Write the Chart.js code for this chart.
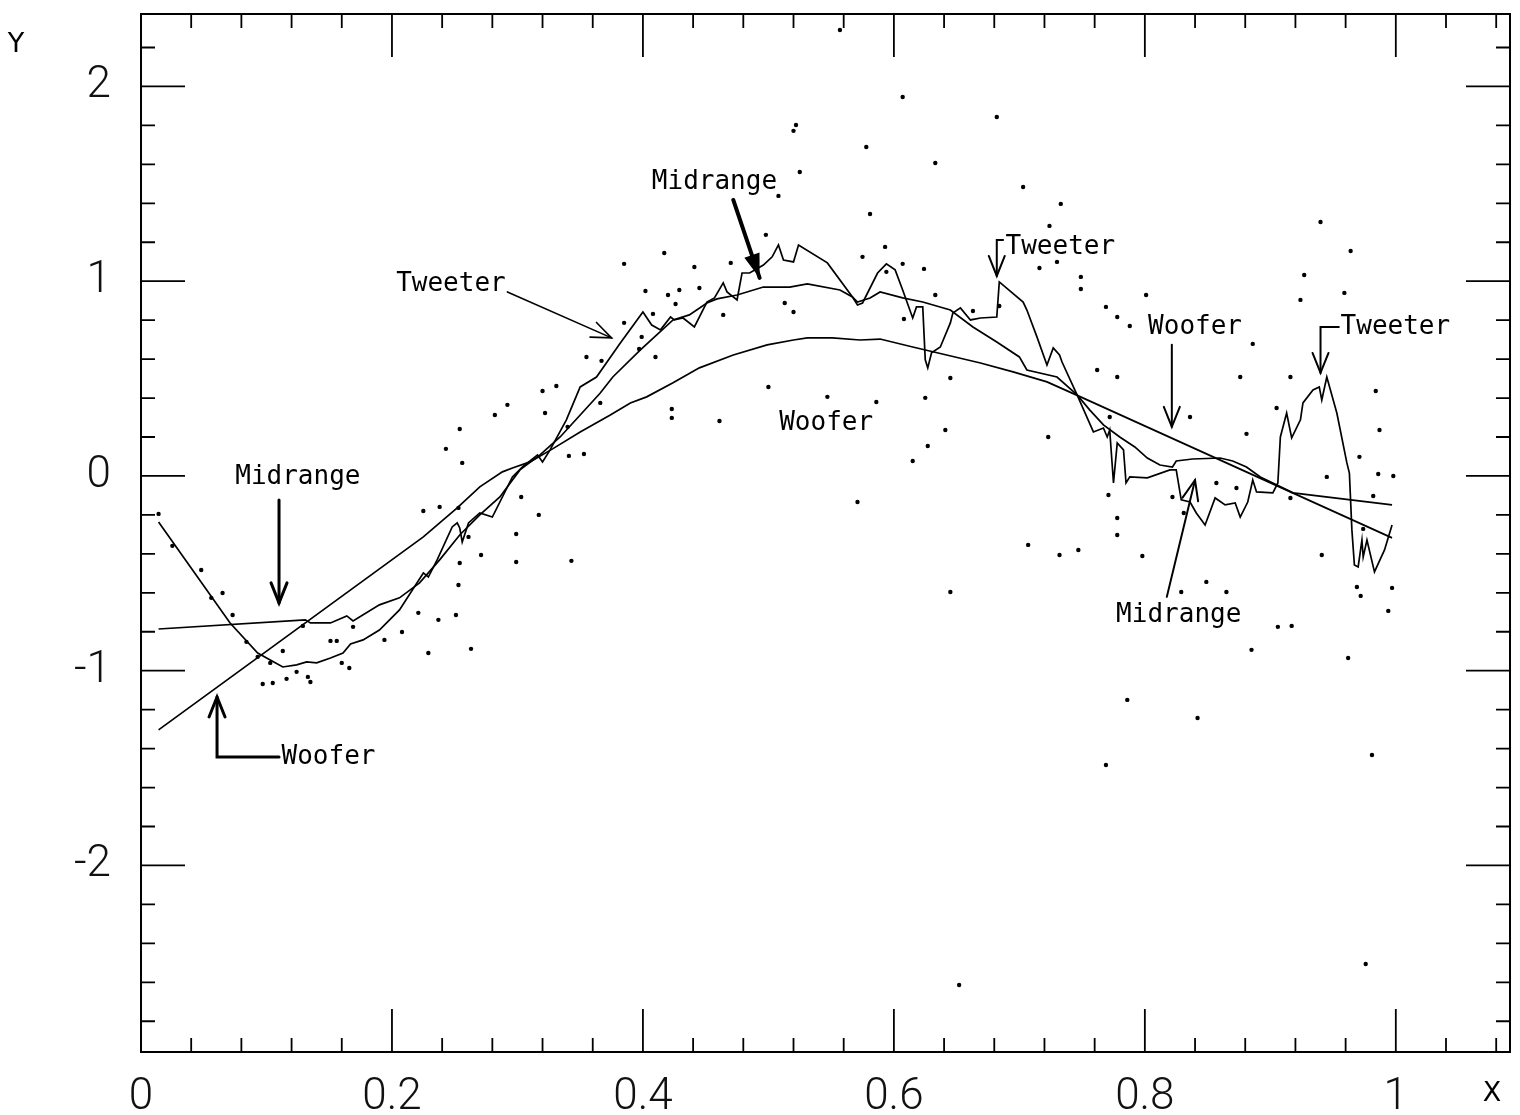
<!DOCTYPE html>
<html><head><meta charset="utf-8">
<script src="https://cdn.jsdelivr.net/npm/chart.js@4/dist/chart.umd.min.js"></script>
<style>html,body{margin:0;padding:0;background:#fff;}canvas{display:block;}</style>
</head><body>
<canvas id="c" width="1520" height="1115"></canvas>
<script>
// ---- axis ticks ----
const xTickLabels = [0, 0.2, 0.4, 0.6, 0.8, 1];
const yTickLabels = [-2, -1, 0, 1, 2];
const xMinorTicks = [0.04,0.08,0.12,0.16,0.24,0.28,0.32,0.36,0.44,0.48,0.52,0.56,0.64,0.68,0.72,0.76,0.84,0.88,0.92,0.96,1.04,1.08];
const yMinorTicks = [-2.8,-2.6,-2.4,-2.2,-1.8,-1.6,-1.4,-1.2,-0.8,-0.6,-0.4,-0.2,0.2,0.4,0.6,0.8,1.2,1.4,1.6,1.8,2.2];

// ---- observed data points ----
const dataPoints = [
[0.633,1.607],[0.525,1.561],[0.508,1.438],[0.581,1.345],[0.498,1.238],[0.417,1.145],[0.593,1.176],[0.575,1.125],
[0.470,1.094],[0.441,1.073],[0.385,1.089],[0.607,1.089],[0.624,1.063],[0.594,1.048],[0.402,0.950],[0.420,0.929],
[0.429,0.955],[0.445,0.965],[0.426,0.883],[0.633,0.929],[0.385,0.786],[0.408,0.832],[0.464,0.827],[0.513,0.888],
[0.520,0.842],[0.608,0.806],[0.355,0.611],[0.367,0.591],[0.410,0.611],[0.399,0.714],[0.320,0.436],[0.331,0.462],
[0.292,0.365],[0.322,0.323],[0.366,0.375],[0.423,0.344],[0.423,0.298],[0.461,0.282],[0.500,0.457],[0.547,0.406],
[0.586,0.380],[0.625,0.401],[0.641,0.236],[0.627,0.154],[0.645,0.503],[0.340,0.252],[0.522,1.802],[0.520,1.772],
[0.607,1.946],[0.682,1.843],[0.578,1.689],[0.557,2.290],[0.703,1.484],[0.733,1.397],[0.724,1.284],[0.940,1.304],
[0.964,1.155],[0.730,1.099],[0.716,1.068],[0.927,1.032],[0.959,0.940],[0.749,1.022],[0.749,0.960],[0.801,0.929],
[0.924,0.904],[0.769,0.868],[0.778,0.816],[0.788,0.770],[0.663,0.847],[0.684,0.873],[0.886,0.678],[0.916,0.508],
[0.876,0.508],[0.984,0.436],[0.987,0.236],[0.881,0.216],[0.905,0.349],[0.836,0.303],[0.762,0.544],[0.778,0.508],
[0.615,0.077],[0.723,0.200],[0.971,0.098],[0.945,-0.005],[0.986,0.010],[0.998,0.000],[0.982,-0.103],[0.916,-0.113],
[0.857,-0.036],[0.873,-0.062],[0.771,-0.098],[0.831,-0.190],[0.778,-0.216],[0.778,-0.303],[0.707,-0.354],[0.747,-0.380],
[0.732,-0.406],[0.798,-0.411],[0.941,-0.406],[0.974,-0.272],[0.969,-0.570],[0.972,-0.616],[0.997,-0.575],[0.994,-0.693],
[0.829,-0.596],[0.849,-0.544],[0.865,-0.596],[0.645,-0.596],[0.906,-0.775],[0.917,-0.770],[0.772,0.303],[0.822,-0.108],
[0.769,-1.484],[0.786,-1.150],[0.842,-1.243],[0.885,-0.893],[0.962,-0.935],[0.981,-1.433],[0.976,-2.506],[0.571,-0.134],
[0.652,-2.614],[0.243,0.139],[0.256,0.067],[0.014,-0.195],[0.025,-0.359],[0.048,-0.483],[0.056,-0.626],[0.065,-0.601],
[0.073,-0.714],[0.084,-0.852],[0.093,-0.929],[0.103,-0.960],[0.113,-0.899],[0.129,-0.770],[0.151,-0.847],[0.156,-0.847],
[0.169,-0.775],[0.160,-0.960],[0.166,-0.986],[0.097,-1.068],[0.105,-1.063],[0.116,-1.042],[0.124,-1.006],[0.133,-1.032],
[0.135,-1.058],[0.194,-0.842],[0.208,-0.801],[0.221,-0.703],[0.237,-0.739],[0.251,-0.714],[0.229,-0.909],[0.263,-0.888],
[0.225,-0.180],[0.238,-0.159],[0.253,-0.164],[0.303,-0.108],[0.299,-0.298],[0.299,-0.442],[0.271,-0.406],[0.254,-0.447],
[0.253,-0.560],[0.261,-0.313],[0.282,0.313],[0.254,0.241],[0.341,0.103],[0.353,0.113],[0.317,-0.200],[0.343,-0.436],
[0.397,0.652]
];

// ---- smoother fits ----
const tweeter = [
[0.014,-0.236],[0.071,-0.755],[0.093,-0.909],[0.103,-0.945],[0.113,-0.981],[0.124,-0.970],[0.132,-0.955],[0.140,-0.960],
[0.151,-0.935],[0.161,-0.909],[0.167,-0.863],[0.177,-0.842],[0.190,-0.791],[0.206,-0.688],[0.225,-0.498],[0.229,-0.519],
[0.236,-0.431],[0.248,-0.262],[0.252,-0.241],[0.254,-0.267],[0.256,-0.339],[0.261,-0.241],[0.270,-0.190],[0.280,-0.211],
[0.296,-0.005],[0.304,0.046],[0.316,0.108],[0.320,0.072],[0.326,0.134],[0.339,0.288],[0.350,0.457],[0.363,0.508],
[0.382,0.683],[0.400,0.842],[0.407,0.775],[0.414,0.750],[0.422,0.816],[0.425,0.801],[0.432,0.811],[0.441,0.765],
[0.451,0.893],[0.457,0.914],[0.464,0.991],[0.467,0.945],[0.475,0.904],[0.479,1.042],[0.485,1.042],[0.496,1.083],
[0.503,1.125],[0.508,1.186],[0.512,1.109],[0.520,1.099],[0.524,1.186],[0.547,1.094],[0.567,0.919],[0.571,0.878],
[0.575,0.888],[0.587,1.042],[0.594,1.089],[0.601,1.058],[0.607,0.955],[0.615,0.811],[0.618,0.868],[0.623,0.868],
[0.625,0.596],[0.627,0.555],[0.630,0.632],[0.637,0.662],[0.645,0.786],[0.647,0.837],[0.653,0.863],[0.661,0.801],
[0.669,0.811],[0.682,0.816],[0.684,0.996],[0.703,0.893],[0.706,0.852],[0.714,0.714],[0.722,0.570],[0.727,0.657],
[0.732,0.621],[0.734,0.585],[0.746,0.416],[0.759,0.226],[0.767,0.246],[0.770,0.200],[0.772,0.236],[0.775,-0.036],
[0.778,0.169],[0.783,0.134],[0.785,-0.036],[0.788,-0.005],[0.802,-0.010],[0.820,0.031],[0.825,0.031],[0.829,-0.123],
[0.836,-0.134],[0.841,-0.190],[0.848,-0.252],[0.856,-0.113],[0.864,-0.149],[0.872,-0.139],[0.876,-0.211],[0.882,-0.134],
[0.886,-0.021],[0.889,-0.082],[0.902,-0.087],[0.906,-0.036],[0.908,0.200],[0.913,0.323],[0.917,0.195],[0.924,0.288],
[0.926,0.375],[0.934,0.442],[0.939,0.457],[0.941,0.390],[0.945,0.508],[0.953,0.323],[0.961,0.067],[0.963,0.015],
[0.965,-0.277],[0.967,-0.457],[0.970,-0.467],[0.973,-0.329],[0.974,-0.416],[0.977,-0.329],[0.983,-0.493],[0.991,-0.380],
[0.997,-0.252]
];
const midrange = [
[0.014,-0.786],[0.131,-0.739],[0.135,-0.755],[0.151,-0.755],[0.164,-0.719],[0.169,-0.745],[0.190,-0.662],[0.206,-0.626],
[0.222,-0.549],[0.238,-0.431],[0.254,-0.303],[0.270,-0.200],[0.286,-0.108],[0.302,0.031],[0.318,0.108],[0.334,0.200],
[0.350,0.313],[0.366,0.426],[0.376,0.508],[0.398,0.647],[0.411,0.724],[0.424,0.801],[0.437,0.827],[0.451,0.888],
[0.459,0.909],[0.475,0.929],[0.496,0.970],[0.517,0.970],[0.531,0.986],[0.557,0.955],[0.567,0.919],[0.571,0.893],
[0.581,0.914],[0.589,0.945],[0.607,0.914],[0.623,0.893],[0.645,0.852],[0.663,0.765],[0.682,0.688],[0.700,0.611],
[0.706,0.544],[0.730,0.508],[0.746,0.416],[0.756,0.339],[0.767,0.262],[0.780,0.200],[0.792,0.149],[0.802,0.092],
[0.812,0.056],[0.822,0.046],[0.825,0.077],[0.838,0.087],[0.860,0.092],[0.870,0.077],[0.881,0.046],[0.892,-0.005],
[0.902,-0.036],[0.918,-0.087],[0.997,-0.149]
];
const woofer = [
[0.014,-1.304],[0.225,-0.313],[0.252,-0.164],[0.270,-0.056],[0.288,0.021],[0.296,0.041],[0.310,0.072],[0.328,0.139],
[0.350,0.226],[0.374,0.313],[0.390,0.375],[0.403,0.406],[0.424,0.478],[0.445,0.555],[0.472,0.621],[0.499,0.673],
[0.520,0.698],[0.531,0.709],[0.551,0.709],[0.573,0.698],[0.589,0.703],[0.615,0.662],[0.642,0.621],[0.669,0.580],
[0.695,0.534],[0.722,0.483],[0.747,0.411],[0.997,-0.318]
];

// ---- annotations (data coordinates) ----
const noteLabels = [
  {text:'Midrange', x:0.125, y:-0.005, align:'center'},
  {text:'Woofer',   x:0.112, y:-1.443, align:'left'},
  {text:'Tweeter',  x:0.247, y:0.986,  align:'center'},
  {text:'Midrange', x:0.457, y:1.510,  align:'center'},
  {text:'Woofer',   x:0.546, y:0.272,  align:'center'},
  {text:'Tweeter',  x:0.689, y:1.176,  align:'left'},
  {text:'Woofer',   x:0.840, y:0.765,  align:'center'},
  {text:'Tweeter',  x:0.956, y:0.765,  align:'left'},
  {text:'Midrange', x:0.827, y:-0.714, align:'center'}
];
const noteArrows = [
  {path:[[0.110,-0.123],[0.110,-0.652]], w:3, head:'open'},
  {path:[[0.110,-1.443],[0.0606,-1.443],[0.0606,-1.135]], w:3, head:'open'},
  {path:[[0.292,0.945],[0.375,0.709]], w:1.6, head:'open'},
  {path:[[0.472,1.417],[0.493,1.017]], w:4, head:'filled'},
  {path:[[0.687,1.212],[0.682,1.212],[0.682,1.027]], w:2, head:'open'},
  {path:[[0.8215,0.673],[0.8215,0.252]], w:2, head:'open'},
  {path:[[0.9546,0.765],[0.940,0.765],[0.940,0.529]], w:2, head:'open'},
  {path:[[0.8175,-0.621],[0.840,-0.021]], w:2, head:'open'}
];

const toXY = arr => arr.map(p => ({x:p[0], y:p[1]}));

function drawArrow(ctx, pts, a) {
  ctx.lineWidth = a.w; ctx.lineCap = 'round'; ctx.lineJoin = 'miter';
  ctx.beginPath(); ctx.moveTo(pts[0][0], pts[0][1]);
  for (let i = 1; i < pts.length; i++) ctx.lineTo(pts[i][0], pts[i][1]);
  ctx.stroke();
  const [x1,y1] = pts[pts.length-2], [x2,y2] = pts[pts.length-1];
  const ang = Math.atan2(y2-y1, x2-x1);
  const L = a.head === 'filled' ? 24 : 20, W = 8;
  const bx = x2 - L*Math.cos(ang), by = y2 - L*Math.sin(ang);
  const px = -Math.sin(ang)*W, py = Math.cos(ang)*W;
  ctx.beginPath();
  ctx.moveTo(bx+px, by+py); ctx.lineTo(x2, y2); ctx.lineTo(bx-px, by-py);
  if (a.head === 'filled') { ctx.closePath(); ctx.fill(); } else { ctx.stroke(); }
}

const framePlugin = {
  id: 'frame',
  afterDraw(chart) {
    const {ctx, chartArea: A, scales: {x, y}} = chart;
    ctx.save();
    ctx.strokeStyle = '#000'; ctx.fillStyle = '#000';
    ctx.lineWidth = 2;
    ctx.strokeRect(A.left, A.top, A.right - A.left, A.bottom - A.top);
    ctx.lineWidth = 1.8;
    const xt = (v, len) => {
      const p = x.getPixelForValue(v);
      ctx.beginPath(); ctx.moveTo(p, A.bottom); ctx.lineTo(p, A.bottom - len);
      ctx.moveTo(p, A.top); ctx.lineTo(p, A.top + len); ctx.stroke();
    };
    const yt = (v, len) => {
      const p = y.getPixelForValue(v);
      ctx.beginPath(); ctx.moveTo(A.left, p); ctx.lineTo(A.left + len, p);
      ctx.moveTo(A.right, p); ctx.lineTo(A.right - len, p); ctx.stroke();
    };
    xTickLabels.forEach(v => xt(v, 43));
    xMinorTicks.forEach(v => xt(v, 14));
    yTickLabels.forEach(v => yt(v, 44));
    yMinorTicks.forEach(v => yt(v, 14));

    // annotations
    ctx.font = '26px "DejaVu Sans Mono"';
    ctx.textBaseline = 'middle';
    noteLabels.forEach(l => {
      ctx.textAlign = l.align;
      ctx.fillText(l.text, x.getPixelForValue(l.x), y.getPixelForValue(l.y));
    });
    noteArrows.forEach(a => {
      const pts = a.path.map(p => [x.getPixelForValue(p[0]), y.getPixelForValue(p[1])]);
      drawArrow(ctx, pts, a);
    });

    // axis names
    ctx.font = '27px "DejaVu Sans"';
    ctx.textAlign = 'center';
    ctx.fillText('Y', 16, 45);
    ctx.fillText('X', 1492, 1094);
    ctx.restore();
  }
};

const tickFont = {family: 'Roboto, "DejaVu Sans", sans-serif', size: 44, weight: 300};

new Chart(document.getElementById('c').getContext('2d'), {
  type: 'scatter',
  data: {
    datasets: [
      {label: 'Data', data: toXY(dataPoints), showLine: false, pointRadius: 2.2,
       pointBackgroundColor: '#000', pointBorderWidth: 0, pointHoverRadius: 2.2},
      {label: 'Woofer', data: toXY(woofer), showLine: true, pointRadius: 0,
       borderColor: '#000', borderWidth: 1.7, tension: 0, fill: false},
      {label: 'Midrange', data: toXY(midrange), showLine: true, pointRadius: 0,
       borderColor: '#000', borderWidth: 1.7, tension: 0, fill: false},
      {label: 'Tweeter', data: toXY(tweeter), showLine: true, pointRadius: 0,
       borderColor: '#000', borderWidth: 1.7, tension: 0, fill: false}
    ]
  },
  options: {
    responsive: false, animation: false, devicePixelRatio: 1,
    layout: {padding: {left: 0, right: 10, top: 14, bottom: 0}},
    plugins: {legend: {display: false}, tooltip: {enabled: false}},
    scales: {
      x: {
        type: 'linear', min: 0, max: 1.091,
        grid: {display: false}, border: {display: false},
        afterFit: s => { s.height = 63; s.paddingLeft = 0; s.paddingRight = 0; },
        afterBuildTicks: a => { a.ticks = xTickLabels.map(v => ({value: v})); },
        ticks: {padding: 12, color: '#111', font: tickFont, maxRotation: 0, autoSkip: false,
                callback: v => String(v)}
      },
      y: {
        type: 'linear', min: -2.958, max: 2.372,
        grid: {display: false}, border: {display: false},
        afterFit: s => { s.width = 141; s.paddingTop = 0; s.paddingBottom = 0; },
        afterBuildTicks: a => { a.ticks = yTickLabels.map(v => ({value: v})); },
        ticks: {padding: 22, color: '#111', font: tickFont, autoSkip: false,
                callback: v => String(v)}
      }
    }
  },
  plugins: [framePlugin]
});
</script>
</body></html>
